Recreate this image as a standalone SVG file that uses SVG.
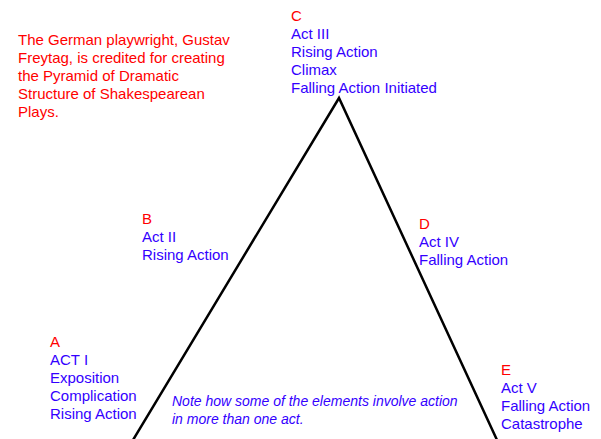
<svg xmlns="http://www.w3.org/2000/svg" width="601" height="439" viewBox="0 0 601 439">
<style>
text{font-family:"Liberation Sans",Arial,sans-serif;font-size:15px}
.r{fill:#ff0000}
.b{fill:#3300ff}
.n{fill:#3300ff;font-style:italic;font-size:14px}
.edge{fill:none;stroke:#000;stroke-width:2.5}
</style>
<rect width="601" height="439" fill="#fff"/>
<g id="connectors">
<path class="edge" d="M133,440 L339,98 L497,440"/>
</g>
<g id="intro">
<text class="r" x="18" y="45">The German playwright, Gustav</text>
<text class="r" x="18" y="63">Freytag, is credited for creating</text>
<text class="r" x="18" y="81">the Pyramid of Dramatic</text>
<text class="r" x="18" y="99">Structure of Shakespearean</text>
<text class="r" x="18" y="117">Plays.</text>
</g>
<g id="nodeC">
<text class="r" x="291" y="21">C</text>
<text class="b" x="291" y="39">Act III</text>
<text class="b" x="291" y="57">Rising Action</text>
<text class="b" x="291" y="75">Climax</text>
<text class="b" x="291" y="93">Falling Action Initiated</text>
</g>
<g id="nodeB">
<text class="r" x="142" y="224">B</text>
<text class="b" x="142" y="242">Act II</text>
<text class="b" x="142" y="260">Rising Action</text>
</g>
<g id="nodeD">
<text class="r" x="419" y="229">D</text>
<text class="b" x="419" y="247">Act IV</text>
<text class="b" x="419" y="265">Falling Action</text>
</g>
<g id="nodeA">
<text class="r" x="50" y="347">A</text>
<text class="b" x="50" y="365">ACT I</text>
<text class="b" x="50" y="383">Exposition</text>
<text class="b" x="50" y="401">Complication</text>
<text class="b" x="50" y="419">Rising Action</text>
</g>
<g id="nodeE">
<text class="r" x="501" y="375">E</text>
<text class="b" x="501" y="393">Act V</text>
<text class="b" x="501" y="411">Falling Action</text>
<text class="b" x="501" y="429">Catastrophe</text>
</g>
<g id="note">
<text class="n" x="172" y="406">Note how some of the elements involve action</text>
<text class="n" x="172" y="424">in more than one act.</text>
</g>
</svg>
